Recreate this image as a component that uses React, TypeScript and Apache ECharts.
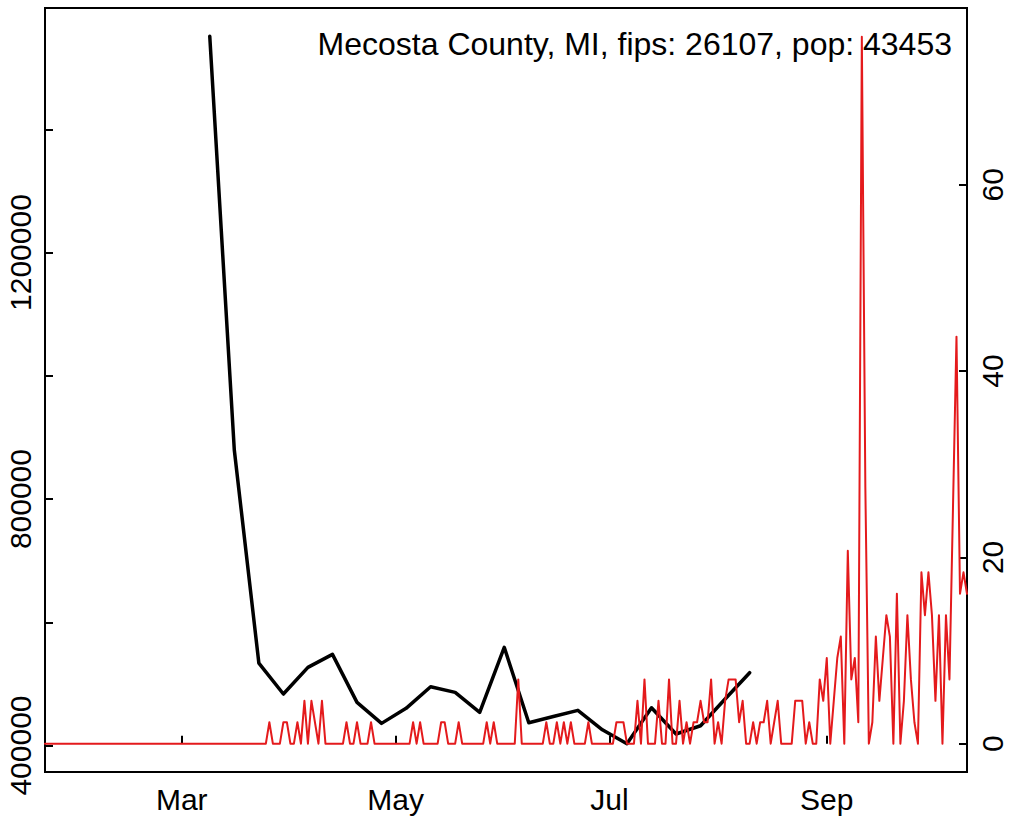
import React, { useEffect, useRef } from "react";
import * as echarts from "echarts";

const TITLE = "Mecosta County, MI, fips: 26107, pop: 43453";
const FONT = "'Liberation Sans', Arial, Helvetica, sans-serif";

// Daily new cases per 100k (red, right axis), Jan 22 2020 .. Oct 11 2020
const redJan = [0, 0, 0, 0, 0, 0, 0, 0, 0, 0]; // Jan 22-31
const redFeb = [0, 0, 0, 0, 0, 0, 0, 0, 0, 0, 0, 0, 0, 0, 0, 0, 0, 0, 0, 0, 0, 0, 0, 0, 0, 0, 0, 0, 0];
const redMar = [0, 0, 0, 0, 0, 0, 0, 0, 0, 0, 0, 0, 0, 0, 0, 0, 0, 0, 0, 0, 0, 0, 0, 0, 0, 2.3, 0, 0, 0, 2.3, 2.3];
const redApr = [0, 0, 2.3, 0, 4.6, 0, 4.6, 2.3, 0, 4.6, 0, 0, 0, 0, 0, 0, 2.3, 0, 0, 2.3, 0, 0, 0, 2.3, 0, 0, 0, 0, 0, 0];
const redMay = [0, 0, 0, 0, 0, 2.3, 0, 2.3, 0, 0, 0, 0, 0, 2.3, 2.3, 0, 0, 0, 2.3, 0, 0, 0, 0, 0, 0, 0, 2.3, 0, 2.3, 0, 0];
const redJun = [0, 0, 0, 0, 6.9, 0, 0, 0, 0, 0, 0, 0, 2.3, 0, 0, 2.3, 0, 2.3, 0, 2.3, 0, 0, 0, 0, 2.3, 0, 0, 0, 0, 0];
const redJul = [0, 0, 2.3, 2.3, 2.3, 0, 0, 0, 4.6, 0, 6.9, 0, 0, 0, 4.6, 0, 0, 6.9, 0, 0, 4.6, 0, 2.3, 0, 2.3, 2.3, 4.6, 2.3, 2.3, 6.9, 0];
const redAug = [2.3, 0, 4.6, 6.9, 6.9, 6.9, 2.3, 4.6, 0, 0, 2.3, 0, 2.3, 2.3, 4.6, 0, 2.3, 4.6, 0, 0, 0, 0, 4.6, 4.6, 4.6, 0, 2.3, 0, 0, 6.9, 4.6];
const redSep = [9.2, 0, 4.6, 9.2, 11.5, 0, 20.7, 6.9, 9.2, 2.3, 75.9, 27.6, 0, 2.3, 11.5, 4.6, 9.2, 13.8, 11.5, 0, 16.1, 0, 4.6, 13.8, 6.9, 2.3, 0, 18.4, 13.8, 18.4];
const redOct = [13.8, 4.6, 13.8, 0, 13.8, 6.9, 25.3, 43.7, 16.1, 18.4, 16.1]; // Oct 1-11

// Weekly values (black, left axis), from Mar 9 2020
const blackValues = [
  1551000, 879600, 533900, 483600, 526900, 548000, 470100, 436000, 460400, 495400, 486300, 453900,
  559400, 437000, 447100, 457100, 425600, 403000, 461300, 418700, 432100, 475500, 518200,
];

const monthNames = ["Jan", "Feb", "Mar", "Apr", "May", "Jun", "Jul", "Aug", "Sep", "Oct", "Nov", "Dec"];
const xTicks = [new Date(2020, 2, 1).getTime(), new Date(2020, 4, 1).getTime(), new Date(2020, 6, 1).getTime(), new Date(2020, 8, 1).getTime()];
const leftTicks = [400000, 600000, 800000, 1000000, 1200000, 1400000];
const leftLabels = [400000, 800000, 1200000];
const rightTicks = [0, 20, 40, 60];

export default function App() {
  const ref = useRef<HTMLDivElement>(null);
  useEffect(() => {
    if (!ref.current) return;
    const chart = echarts.init(ref.current, null, { renderer: "svg" });
    const red = [...redJan, ...redFeb, ...redMar, ...redApr, ...redMay, ...redJun, ...redJul, ...redAug, ...redSep, ...redOct];
    const redData = red.map((v, i) => [new Date(2020, 0, 22 + i).getTime(), v]);
    const blackData = blackValues.map((v, i) => [new Date(2020, 2, 9 + 7 * i).getTime(), v]);
    const tickStyle = { color: "#000", width: 2 };
    const labelBase = { color: "#000", fontSize: 30, fontFamily: FONT };
    chart.setOption({
      animation: false,
      grid: {
        left: 45, right: 43, top: 8, bottom: 45,
        show: true, borderColor: "#000", borderWidth: 2,
        containLabel: false, outerBoundsMode: "none",
      },
      xAxis: {
        type: "value",
        min: new Date(2020, 0, 22).getTime(),
        max: new Date(2020, 9, 11).getTime(),
        axisLine: { show: false },
        splitLine: { show: false },
        axisTick: { show: true, inside: true, length: 8, lineStyle: tickStyle, customValues: xTicks },
        axisLabel: {
          ...labelBase,
          margin: 12,
          customValues: xTicks,
          formatter: (v: number) => monthNames[new Date(v).getMonth()],
        },
      },
      yAxis: [
        {
          type: "value",
          position: "left",
          min: 357080,
          max: 1596920,
          axisLine: { show: false },
          splitLine: { show: false },
          axisTick: { show: true, inside: true, length: 8, lineStyle: tickStyle, customValues: leftTicks },
          axisLabel: { ...labelBase, rotate: 90, margin: 10, customValues: leftLabels, formatter: (v: number) => String(v) },
        },
        {
          type: "value",
          position: "right",
          min: -3.04,
          max: 78.98,
          axisLine: { show: false },
          splitLine: { show: false },
          axisTick: { show: true, inside: true, length: 8, lineStyle: tickStyle, customValues: rightTicks },
          axisLabel: { ...labelBase, rotate: 90, margin: 10, customValues: rightTicks, formatter: (v: number) => String(v) },
        },
      ],
      series: [
        {
          type: "line",
          yAxisIndex: 0,
          data: blackData,
          symbol: "none",
          lineStyle: { color: "#000", width: 3.5, cap: "round", join: "round" },
          z: 2,
        },
        {
          type: "line",
          yAxisIndex: 1,
          data: redData,
          symbol: "none",
          lineStyle: { color: "#E41A1C", width: 2, cap: "round", join: "round" },
          z: 3,
        },
      ],
      graphic: [
        {
          type: "text",
          right: 58,
          top: 28,
          style: { text: TITLE, fontSize: 32, fill: "#000", fontFamily: FONT },
        },
      ],
    });
    return () => chart.dispose();
  }, []);
  return <div ref={ref} style={{ position: "absolute", left: 0, top: 0, width: 1010, height: 817 }} />;
}
